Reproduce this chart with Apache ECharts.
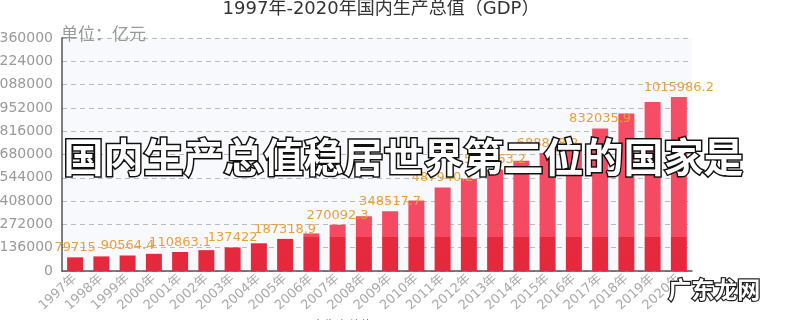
<!DOCTYPE html>
<html>
<head>
<meta charset="utf-8">
<script src="https://cdn.jsdelivr.net/npm/echarts@6/dist/echarts.min.js"></script>
<style>
html,body{margin:0;padding:0;background:#fff;}
#chart{width:800px;height:320px;}
</style>
</head>
<body>
<div id="chart"></div>
<script>
var years = ['1997年','1998年','1999年','2000年','2001年','2002年','2003年','2004年','2005年','2006年','2007年','2008年','2009年','2010年','2011年','2012年','2013年','2014年','2015年','2016年','2017年','2018年','2019年','2020年'];
var gdp = [79715, 85195.5, 90564.4, 100280.1, 110863.1, 121717.4, 137422, 161840.2, 187318.9, 219438.5, 270092.3, 319244.6, 348517.7, 412119.3, 487940.2, 538580, 592963.2, 643563.1, 688858.2, 746395.1, 832035.9, 919281.1, 986515.2, 1015986.2];
var titleText = '1997年-2020年国内生产总值（GDP）';
var unitText = '单位：亿元';
var seriesName = '国内生产总值';
var overlayText = '国内生产总值稳居世界第二位的国家是';
var watermarkText = '广东龙网';

var chart = echarts.init(document.getElementById('chart'));
var last = gdp.length - 1;
var barData = gdp.map(function (v, i) {
  var show = (i % 2 === 0 && i < last - 1) || i === last;
  return { value: v, label: { show: show } };
});
var cjk = '"Noto Sans CJK SC", "Noto Sans", sans-serif';
var wide = '"DejaVu Sans", "Noto Sans CJK SC", sans-serif';
chart.setOption({
  animation: false,
  textStyle: { fontFamily: cjk },
  title: {
    text: titleText,
    left: 376, textAlign: 'center', top: -5,
    textStyle: { fontSize: 18, fontWeight: 'normal', color: '#333', fontFamily: wide }
  },
  legend: {
    left: 276, top: 314, itemWidth: 14, itemHeight: 10,
    textStyle: { color: '#666', fontSize: 12 },
    data: [{ name: seriesName, itemStyle: { color: '#999' } }]
  },
  grid: {
    left: 62, right: 108, top: 38, bottom: 49,
    outerBoundsMode: 'none', containLabel: false,
    show: true, backgroundColor: '#f8f9fc', borderWidth: 0
  },
  xAxis: {
    type: 'category', data: years,
    axisLine: { lineStyle: { color: '#555', width: 1.5 } },
    axisTick: { show: false },
    axisLabel: { rotate: 42, color: '#aaa', fontSize: 13, margin: 6, interval: 0, fontFamily: wide }
  },
  yAxis: {
    type: 'value', min: 0, max: 1360000, interval: 136000,
    name: unitText, nameLocation: 'end', nameGap: 4,
    nameTextStyle: { align: 'left', verticalAlign: 'middle', color: '#999', fontSize: 17, padding: [0, 0, 0, -1] },
    axisLine: { show: true, lineStyle: { color: '#555', width: 1.5 } },
    axisTick: { show: false },
    axisLabel: { color: '#999', fontSize: 14, margin: 9, fontFamily: wide, formatter: function (v) { return String(v); } },
    splitLine: { lineStyle: { color: '#bbb', type: [5, 4] } }
  },
  series: [{
    name: seriesName, type: 'bar', data: barData, barWidth: 16,
    itemStyle: {
      color: {
        type: 'linear', global: true, x: 0, y: 0, x2: 0, y2: 320,
        colorStops: [
          { offset: 0, color: '#f5506a' },
          { offset: 0.74, color: '#f44a62' },
          { offset: 0.741, color: '#e62a3e' },
          { offset: 1, color: '#e4253a' }
        ]
      }
    },
    label: { position: 'top', distance: 3, color: '#e9a03c', fontSize: 13, fontFamily: wide }
  }],
  graphic: [
    {
      type: 'text', left: 62, top: 135, z: 100,
      style: {
        text: overlayText, fontSize: 40, fontWeight: 'bold', fontFamily: cjk,
        fill: '#fff', stroke: '#111', lineWidth: 3
      }
    },
    {
      type: 'text', left: 667, top: 277, z: 100,
      style: {
        text: watermarkText, fontSize: 23, fontWeight: 'bold', fontFamily: cjk,
        fill: '#fff', stroke: '#222', lineWidth: 2.5
      }
    }
  ]
});
</script>
</body>
</html>
